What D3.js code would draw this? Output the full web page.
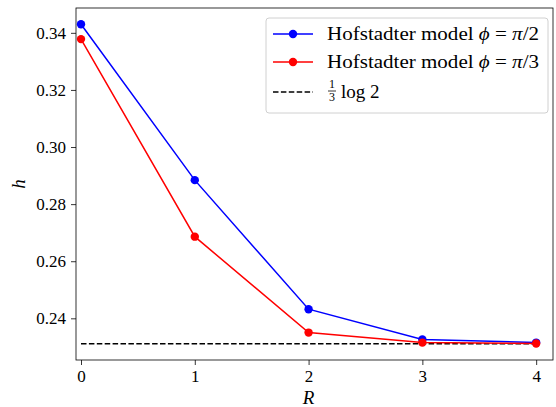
<!DOCTYPE html>
<html>
<head>
<meta charset="utf-8">
<script src="https://cdn.jsdelivr.net/npm/d3@7"></script>
<style>
  body { margin: 0; background: #fff; }
  text { font-family: "Liberation Serif", serif; }
</style>
</head>
<body>
<svg id="chart" width="556" height="407"></svg>
<script>
// data
const R = [0, 1, 2, 3, 4];
const hPi2 = [0.3430, 0.2884, 0.2432, 0.2326, 0.2315];
const hPi3 = [0.3378, 0.2686, 0.2350, 0.2315, 0.2312];
const refLine = Math.log(2) / 3;
const xTicks = [0, 1, 2, 3, 4];
const yTicks = [0.24, 0.26, 0.28, 0.30, 0.32, 0.34];

const svg = d3.select("#chart");
const mar = { left: 76, right: 3, top: 8, bottom: 47 };
const W = 556, H = 407;
const FONT = '"Liberation Serif", serif';

// scales
const x = d3.scaleLinear().domain([-0.044, 4.148]).range([mar.left, W - mar.right]);
const y = d3.scaleLinear().domain([0.2254, 0.3487]).range([H - mar.bottom, mar.top]);

// axes
const xAxis = svg.append("g")
    .attr("transform", `translate(0,${H - mar.bottom})`)
    .call(d3.axisBottom(x).tickValues(xTicks).tickFormat(d3.format("d")).tickSize(5).tickPadding(5));
const yAxis = svg.append("g")
    .attr("transform", `translate(${mar.left},0)`)
    .call(d3.axisLeft(y).tickValues(yTicks).tickFormat(d3.format(".2f")).tickSize(5).tickPadding(5));
[xAxis, yAxis].forEach(g => {
    g.attr("font-family", FONT);
    g.selectAll("text").attr("font-size", 17).attr("fill", "#000");
    g.selectAll("line").attr("stroke", "#000").attr("stroke-width", 0.8);
    g.select(".domain").remove();
});

// frame
svg.append("rect")
    .attr("x", mar.left).attr("y", mar.top)
    .attr("width", W - mar.left - mar.right).attr("height", H - mar.top - mar.bottom)
    .attr("fill", "none").attr("stroke", "#000").attr("stroke-width", 0.8);

// reference dashed line
svg.append("line")
    .attr("x1", x(0)).attr("x2", x(4))
    .attr("y1", y(refLine)).attr("y2", y(refLine))
    .attr("stroke", "#000").attr("stroke-width", 1.5)
    .attr("stroke-dasharray", "5.5,2.4");

const line = d3.line().x((d, i) => x(R[i])).y(d => y(d));
const series = [
    { vals: hPi2, color: "#0000ff" },
    { vals: hPi3, color: "#ff0000" }
];
series.forEach(s => {
    svg.append("path").datum(s.vals)
        .attr("fill", "none").attr("stroke", s.color).attr("stroke-width", 1.5)
        .attr("d", line);
    svg.selectAll(null).data(s.vals).enter().append("circle")
        .attr("cx", (d, i) => x(R[i])).attr("cy", d => y(d))
        .attr("r", 4.2).attr("fill", s.color);
});

// axis labels
svg.append("text").attr("x", x(2)).attr("y", 404)
    .attr("text-anchor", "middle").attr("font-size", 19).attr("font-style", "italic")
    .text("R");
svg.append("text").attr("transform", `translate(25,${(mar.top + H - mar.bottom) / 2}) rotate(-90)`)
    .attr("text-anchor", "middle").attr("font-size", 19).attr("font-style", "italic")
    .text("h");

// legend
const lg = svg.append("g");
lg.append("rect").attr("x", 266).attr("y", 18).attr("width", 282).attr("height", 95)
    .attr("rx", 3).attr("fill", "#fff").attr("fill-opacity", 0.8)
    .attr("stroke", "#d0d0d0").attr("stroke-width", 1);
const rows = [
    { color: "#0000ff", label: "2", yc: 34 },
    { color: "#ff0000", label: "3", yc: 62 }
];
rows.forEach(r => {
    lg.append("line").attr("x1", 273).attr("x2", 313).attr("y1", r.yc).attr("y2", r.yc)
        .attr("stroke", r.color).attr("stroke-width", 1.5);
    lg.append("circle").attr("cx", 293).attr("cy", r.yc).attr("r", 4.2).attr("fill", r.color);
    const t = lg.append("text").attr("x", 327).attr("y", r.yc + 6)
        .attr("font-size", 19).attr("textLength", 212).attr("lengthAdjust", "spacingAndGlyphs");
    t.append("tspan").text("Hofstadter model ");
    t.append("tspan").attr("font-style", "italic").text("ϕ");
    t.append("tspan").text(" = ");
    t.append("tspan").attr("font-style", "italic").text("π");
    t.append("tspan").text("/" + r.label);
});
lg.append("line").attr("x1", 273).attr("x2", 313).attr("y1", 92).attr("y2", 92)
    .attr("stroke", "#000").attr("stroke-width", 1.5).attr("stroke-dasharray", "5.5,2.4");
lg.append("text").attr("x", 332).attr("y", 88).attr("font-size", 12).attr("text-anchor", "middle").text("1");
lg.append("line").attr("x1", 328).attr("x2", 336).attr("y1", 91).attr("y2", 91)
    .attr("stroke", "#000").attr("stroke-width", 0.8);
lg.append("text").attr("x", 332).attr("y", 101).attr("font-size", 12).attr("text-anchor", "middle").text("3");
lg.append("text").attr("x", 341).attr("y", 98).attr("font-size", 19).text("log 2");
</script>
</body>
</html>
